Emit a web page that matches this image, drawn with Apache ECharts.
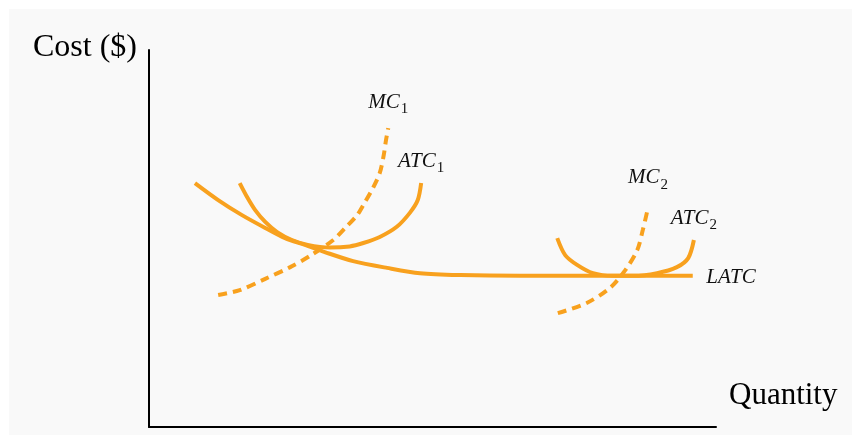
<!DOCTYPE html>
<html>
<head>
<meta charset="utf-8">
<script src="https://cdn.jsdelivr.net/npm/echarts@6/dist/echarts.min.js"></script>
<style>
  html, body { margin: 0; padding: 0; background: #fff; }
  #bg { position: absolute; left: 9px; top: 9px; width: 843px; height: 426px; background: #f9f9f9; }
  #chart { position: absolute; left: 0; top: 0; width: 852px; height: 435px; }
</style>
</head>
<body>
<div id="bg"></div>
<div id="chart"></div>
<script>
// curves, quantity 0..10, cost 0..10
const latcX = [0.81, 1.22, 1.64, 2.05, 2.40, 2.75, 3.10, 3.60, 4.20, 4.78, 5.49, 6.54, 7.95, 9.59];
const latcY = [6.47, 6.02, 5.62, 5.28, 5.01, 4.83, 4.64, 4.40, 4.22, 4.08, 4.03, 4.01, 4.01, 4.01];

const atc1X = [1.60, 1.73, 1.87, 2.05, 2.26, 2.52, 2.80, 3.19, 3.54, 3.78, 4.07, 4.37, 4.60, 4.74, 4.80];
const atc1Y = [6.47, 6.10, 5.76, 5.44, 5.17, 4.96, 4.83, 4.76, 4.79, 4.88, 5.04, 5.31, 5.68, 6.02, 6.47];

const mc1X = [1.22, 1.60, 2.05, 2.49, 2.84, 3.25, 3.46, 3.67, 3.81, 3.95, 4.07, 4.14, 4.18, 4.22];
const mc1Y = [3.50, 3.63, 3.93, 4.24, 4.54, 4.96, 5.28, 5.62, 5.97, 6.34, 6.74, 7.21, 7.61, 7.93];

const atc2X = [7.20, 7.34, 7.55, 7.83, 8.18, 8.54, 8.96, 9.31, 9.51, 9.61];
const atc2Y = [5.01, 4.56, 4.30, 4.08, 4.01, 4.01, 4.08, 4.24, 4.48, 4.96];

const mc2X = [7.21, 7.72, 8.13, 8.40, 8.61, 8.71, 8.80];
const mc2Y = [3.02, 3.29, 3.69, 4.16, 4.69, 5.23, 5.81];

const orange = '#f8a11e';
const serif = '"Liberation Serif", "Times New Roman", serif';

function pairs(xs, ys) {
  return xs.map((x, i) => [x, ys[i]]);
}

const labelRich = {
  m: { fontFamily: serif, fontStyle: 'italic', fontSize: 21, color: '#111', lineHeight: 23, verticalAlign: 'top' },
  s: { fontFamily: serif, fontSize: 15, color: '#111', lineHeight: 15, padding: [10, 0, 0, 1], verticalAlign: 'top' }
};

function curve(name, xs, ys, dashed, text, sub, pos, dist) {
  const data = pairs(xs, ys);
  return {
    name: name,
    type: 'line',
    smooth: 0.3,
    symbol: 'none',
    silent: true,
    data: data,
    lineStyle: { color: orange, width: 4, type: dashed ? [9, 6] : 'solid', cap: 'butt' },
    markPoint: {
      symbol: 'circle',
      symbolSize: 1,
      itemStyle: { color: 'rgba(0,0,0,0)' },
      silent: true,
      data: [{ coord: data[data.length - 1] }],
      label: {
        show: true,
        position: pos,
        distance: dist,
        offset: pos === 'right' ? [0, 3] : [0, 0],
        formatter: sub ? '{m|' + text + '}{s|' + sub + '}' : '{m|' + text + '}',
        rich: labelRich
      }
    }
  };
}

const chart = echarts.init(document.getElementById('chart'));
chart.setOption({
  animation: false,
  backgroundColor: 'transparent',
  grid: { left: 149, right: 136, top: 50, bottom: 8 },
  xAxis: {
    type: 'value', min: 0, max: 10,
    axisLine: { show: true, onZero: false, lineStyle: { color: '#000', width: 2 } },
    axisTick: { show: false }, axisLabel: { show: false }, splitLine: { show: false }
  },
  yAxis: {
    type: 'value', min: 0, max: 10,
    axisLine: { show: true, onZero: false, lineStyle: { color: '#000', width: 2 } },
    axisTick: { show: false }, axisLabel: { show: false }, splitLine: { show: false }
  },
  graphic: [
    { type: 'text', left: 33, top: 32, style: { text: 'Cost ($)', font: '32px ' + serif, fill: '#000' } },
    { type: 'text', left: 729, top: 380, style: { text: 'Quantity', font: '31px ' + serif, fill: '#000' } }
  ],
  series: [
    curve('LATC', latcX, latcY, false, 'LATC', '', 'right', 13),
    curve('ATC1', atc1X, atc1Y, false, 'ATC', '1', 'top', 9),
    curve('MC1', mc1X, mc1Y, true, 'MC', '1', 'top', 13),
    curve('ATC2', atc2X, atc2Y, false, 'ATC', '2', 'top', 9),
    curve('MC2', mc2X, mc2Y, true, 'MC', '2', 'top', 17)
  ]
});
</script>
</body>
</html>
